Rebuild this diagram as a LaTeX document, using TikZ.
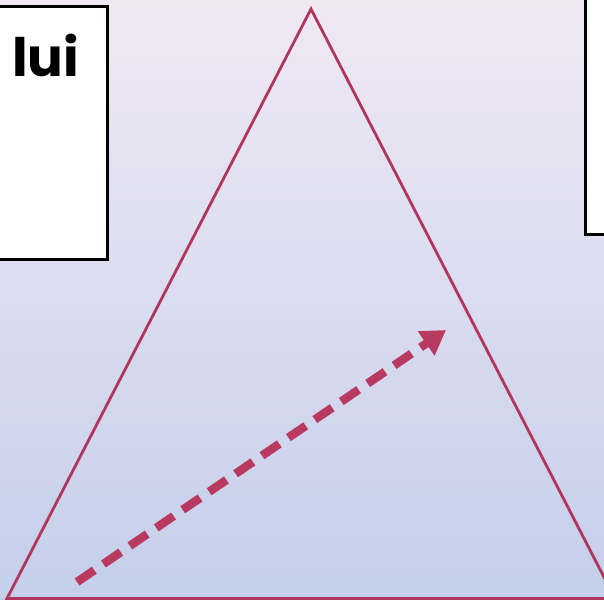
\documentclass[tikz,border=0pt]{standalone}
\usepackage{fontspec}
\setmainfont{Poppins}
\usetikzlibrary{arrows.meta}
\definecolor{crim}{HTML}{B0365E}
\definecolor{arr}{HTML}{B93A61}
\definecolor{bgtop}{HTML}{F0E9F4}
\definecolor{bgbot}{HTML}{C4CFEA}
\tikzset{
  card/.style={draw=black, line width=3pt, fill=white},
  tri/.style={draw=crim, line width=2.8pt, line join=miter},
  dasharrow/.style={draw=arr, line width=8.5pt, dash pattern=on 21pt off 11pt, -{Triangle[length=24pt,width=28pt]}}
}
\begin{document}
\begin{tikzpicture}[x=1pt,y=-1pt]
\useasboundingbox (0,0) rectangle (604,599);
\shade[top color=bgtop, bottom color=bgbot] (0,0) rectangle (604,599);
\begin{scope}
\clip (0,0) rectangle (604,599);
\draw[card] (-10,7) rectangle (107.5,259);
\draw[card] (585.5,-10) rectangle (630,234);
\draw[tri] (311,9) -- (615,598.5) -- (7,598.5) -- cycle;
\end{scope}
\node[anchor=base west, inner sep=0pt, font=\fontsize{53}{60}\selectfont\bfseries] (lbl) at (12,77) {lui};
\coordinate (s) at (77,582);
\coordinate (e) at (446,330);
\draw[dasharrow] (s) -- (e);
\end{tikzpicture}
\end{document}
